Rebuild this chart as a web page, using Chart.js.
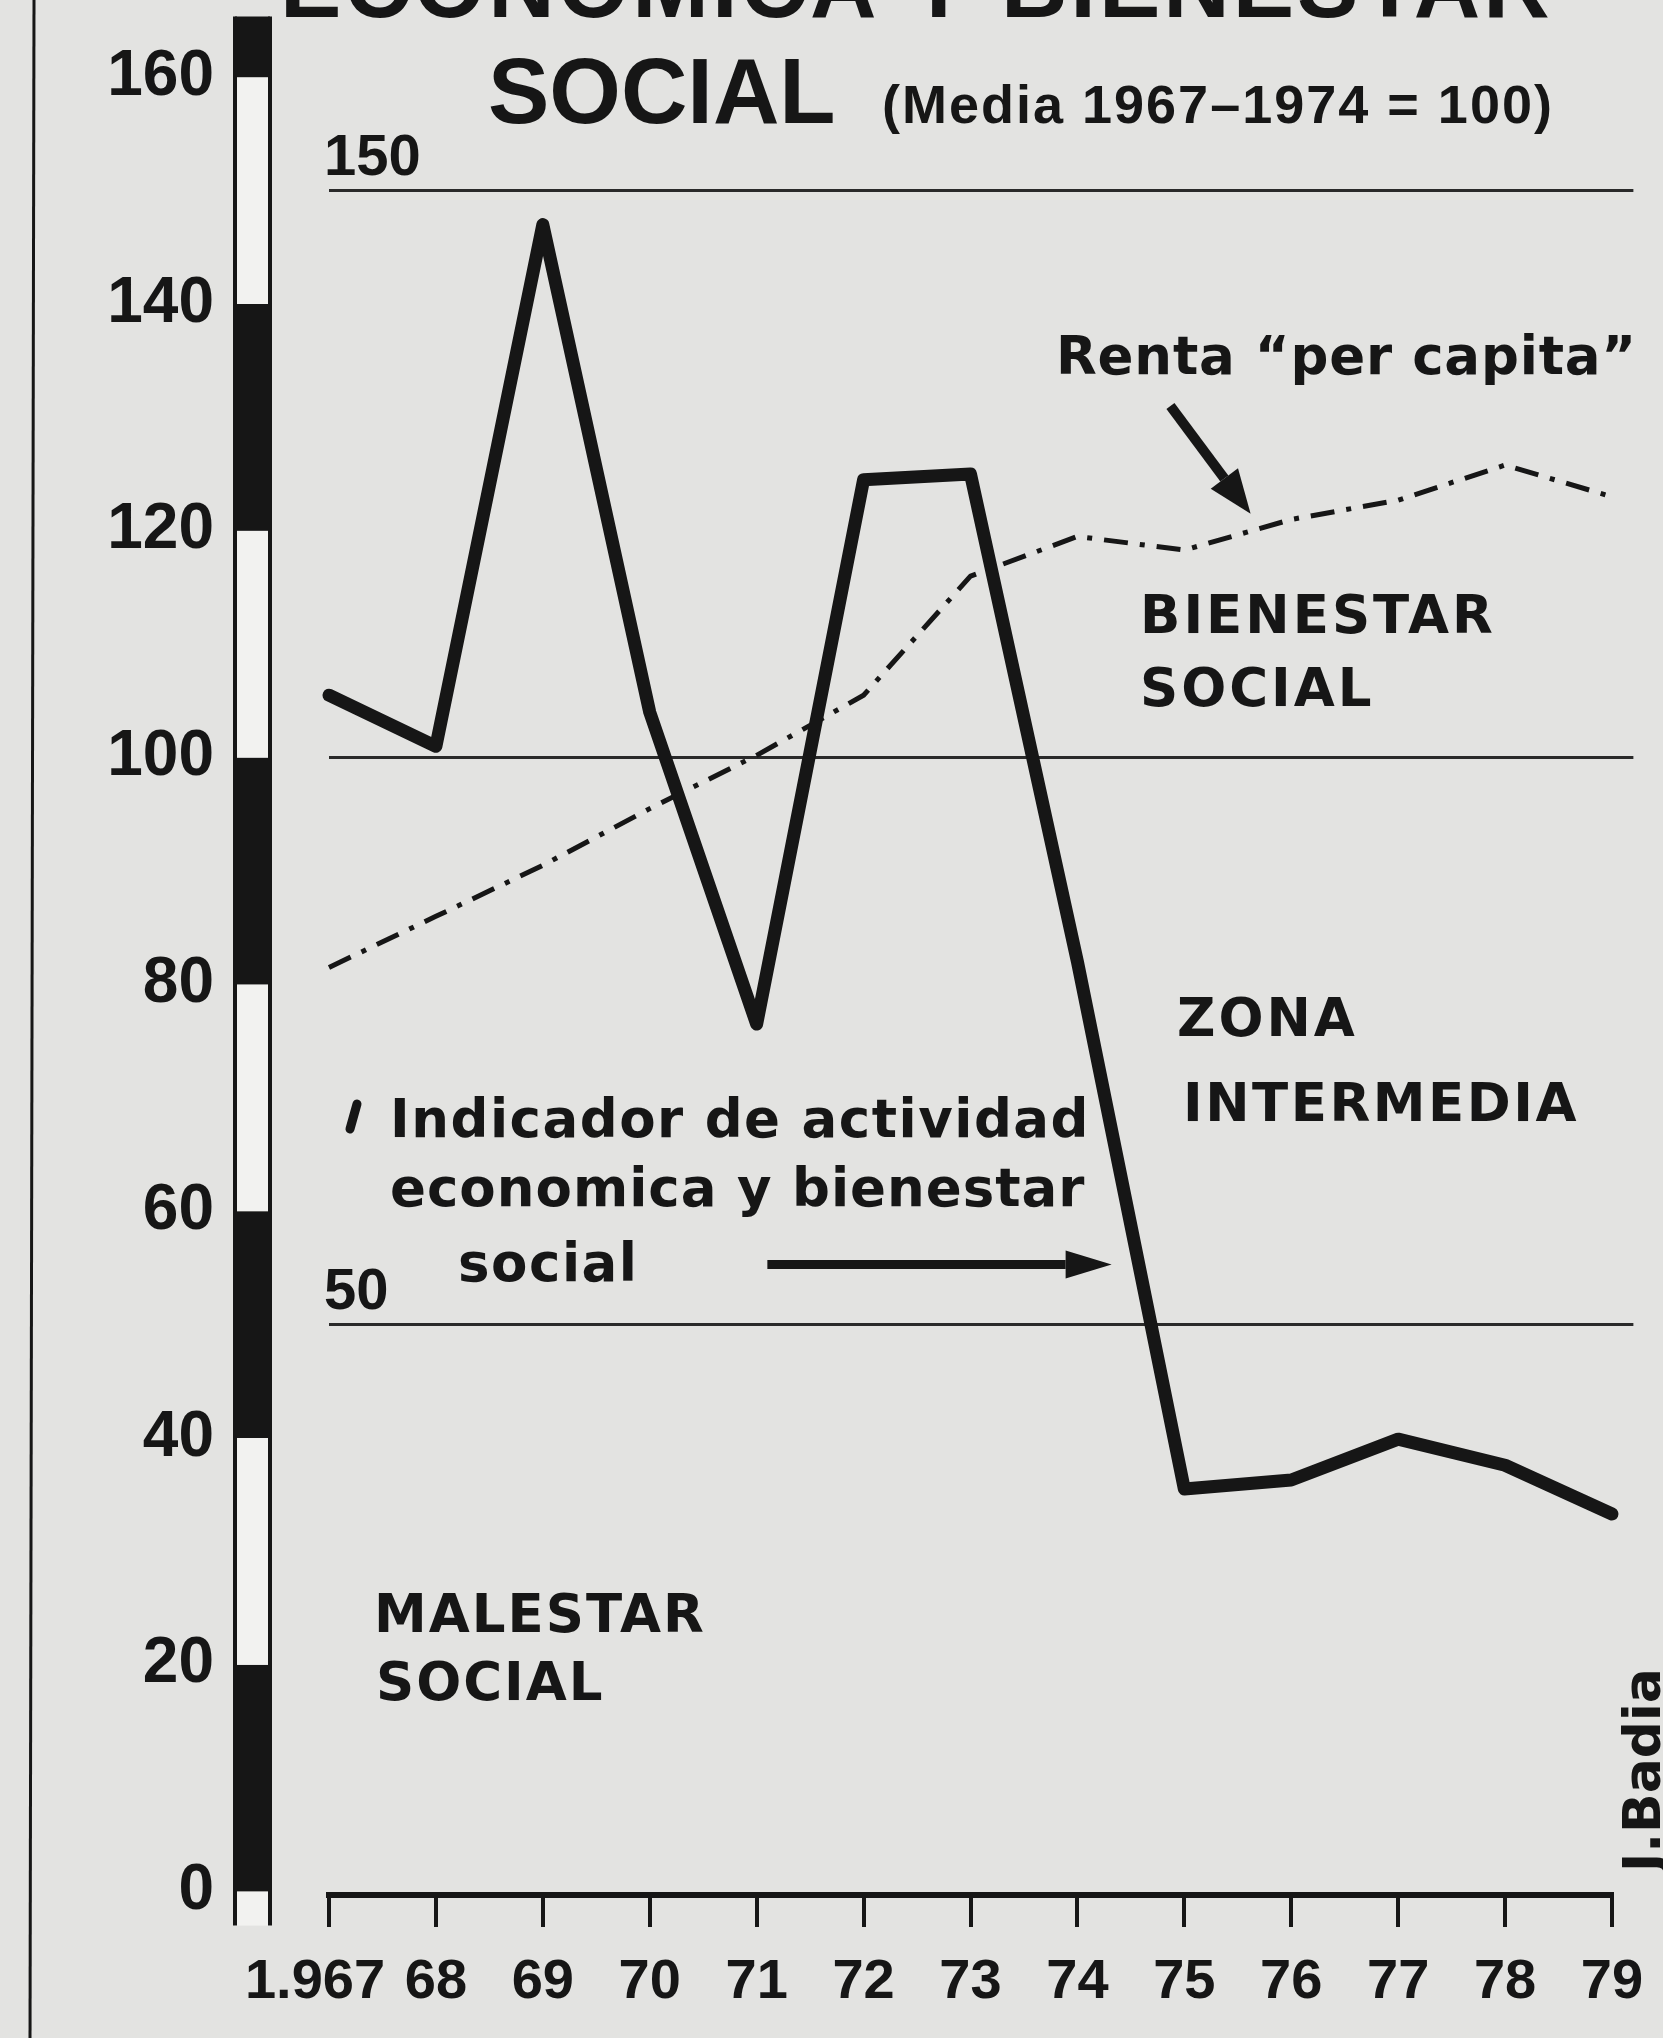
<!DOCTYPE html>
<html>
<head>
<meta charset="utf-8">
<title>Indicador de actividad economica y bienestar social</title>
<script src="https://cdn.jsdelivr.net/npm/chart.js@4.4.1/dist/chart.umd.min.js"></script>
<style>
  html, body { margin: 0; padding: 0; background: #e3e3e1; }
  #chart { display: block; }
</style>
</head>
<body>
<canvas id="chart" width="1663" height="2038"></canvas>
<script>
// Years on the x axis and how they are printed
const years = [1967, 1968, 1969, 1970, 1971, 1972, 1973, 1974, 1975, 1976, 1977, 1978, 1979];
const yearLabels = ['1.967\u2002', '68', '69', '70', '71', '72', '73', '74', '75', '76', '77', '78', '79'];

// Indicador de actividad economica y bienestar social (Media 1967-1974 = 100)
const indicador = [105.5, 101, 147, 104, 76.5, 124.5, 125, 82, 35.5, 36.3, 39.9, 37.6, 33.3];

// Renta "per capita"
const renta = [81.5, 86, 90.5, 95.5, 100.2, 105.5, 116, 119.5, 118.3, 121, 122.7, 125.8, 123];

// Left scale
const yTicks = [0, 20, 40, 60, 80, 100, 120, 140, 160];

// Zone limits (horizontal rules) and their printed labels
const zoneLevels = [150, 100, 50];
const zoneLabels = ['150', '', '50'];

const ink = '#161616';
const paper = '#e3e3e1';

function toPoints(values) {
    return years.map((year, i) => ({ x: year, y: values[i] }));
}

// horizontal rules run a little past the last year
const ruleDatasets = zoneLevels.map(level => ({
    label: 'nivel ' + level,
    data: [{ x: 1967, y: level }, { x: 1979.2, y: level }],
    borderColor: '#2a2a2a',
    borderWidth: 3,
    pointRadius: 0,
    clip: false,
    order: 5
}));

function drawArrow(ctx, x1, y1, x2, y2, width, headLen, headWidth) {
    const ang = Math.atan2(y2 - y1, x2 - x1);
    const bx = x2 - Math.cos(ang) * headLen;
    const by = y2 - Math.sin(ang) * headLen;
    ctx.save();
    ctx.strokeStyle = ink;
    ctx.fillStyle = ink;
    ctx.lineWidth = width;
    ctx.beginPath();
    ctx.moveTo(x1, y1);
    ctx.lineTo(bx, by);
    ctx.stroke();
    const nx = -Math.sin(ang) * headWidth / 2;
    const ny = Math.cos(ang) * headWidth / 2;
    ctx.beginPath();
    ctx.moveTo(x2, y2);
    ctx.lineTo(bx + nx, by + ny);
    ctx.lineTo(bx - nx, by - ny);
    ctx.closePath();
    ctx.fill();
    ctx.restore();
}

function text(ctx, str, x, y, font, spacing) {
    ctx.font = font;
    ctx.letterSpacing = (spacing || 0) + 'px';
    ctx.fillText(str, x, y);
}

const decor = {
    id: 'decor',
    beforeDraw(chart) {
        const { ctx, width, height } = chart;
        ctx.save();
        ctx.fillStyle = paper;
        ctx.fillRect(0, 0, width, height);
        ctx.restore();
    },
    beforeDatasetsDraw(chart) {
        const { ctx } = chart;
        const y = chart.scales.y;
        ctx.save();

        // page rule at the far left
        ctx.strokeStyle = ink;
        ctx.lineWidth = 3;
        ctx.beginPath();
        ctx.moveTo(34, 0);
        ctx.lineTo(30, chart.height);
        ctx.stroke();

        // striped scale bar next to the tick labels
        const barL = 235, barR = 270;
        for (let i = 0; i < yTicks.length - 1; i++) {
            const top = y.getPixelForValue(yTicks[i + 1]);
            const bot = y.getPixelForValue(yTicks[i]);
            ctx.fillStyle = i % 2 === 0 ? ink : '#f2f2f0';
            ctx.fillRect(barL, top, barR - barL, bot - top);
        }
        ctx.fillStyle = ink;
        const capTop = y.getPixelForValue(y.max) - 4;
        ctx.fillRect(barL, capTop, barR - barL, y.getPixelForValue(160) - capTop);
        ctx.fillStyle = '#f2f2f0';
        ctx.fillRect(barL, y.getPixelForValue(0), barR - barL, 34);
        ctx.lineWidth = 4;
        ctx.beginPath();
        ctx.moveTo(barL, capTop);
        ctx.lineTo(barL, y.getPixelForValue(0) + 34);
        ctx.moveTo(barR, capTop);
        ctx.lineTo(barR, y.getPixelForValue(0) + 34);
        ctx.stroke();

        ctx.fillStyle = ink;
        ctx.textBaseline = 'alphabetic';
        ctx.textAlign = 'left';

        // title (first line runs off the top)
        text(ctx, 'ECONOMICA Y BIENESTAR', 280, 17, 'bold 92px "Liberation Sans", Arial, sans-serif', 3);
        text(ctx, 'SOCIAL', 488, 123, 'bold 92px "Liberation Sans", Arial, sans-serif', 0);
        text(ctx, '(Media 1967–1974 = 100)', 882, 123, 'bold 54px "Liberation Sans", Arial, sans-serif', 2);

        // labels on the zone rules
        zoneLevels.forEach((level, i) => {
            if (!zoneLabels[i]) return;
            text(ctx, zoneLabels[i], 324, y.getPixelForValue(level) - 16, 'bold 58px "Liberation Sans", Arial, sans-serif', 0);
        });

        const zoneFont = 'bold 53px "DejaVu Sans", sans-serif';
        text(ctx, 'BIENESTAR', 1140, 633, zoneFont, 3);
        text(ctx, 'SOCIAL', 1140, 706, zoneFont, 3);
        text(ctx, 'ZONA', 1177, 1036, zoneFont, 3);
        text(ctx, 'INTERMEDIA', 1183, 1121, zoneFont, 2.5);
        text(ctx, 'MALESTAR', 374, 1632, zoneFont, 2);
        text(ctx, 'SOCIAL', 376, 1700, zoneFont, 2);

        const noteFont = 'bold 53px "DejaVu Sans", sans-serif';
        text(ctx, 'Renta “per capita”', 1056, 374, noteFont, 0.8);
        text(ctx, 'Indicador de actividad', 390, 1137, noteFont, 1.5);
        text(ctx, 'economica y bienestar', 390, 1206, noteFont, 1);
        text(ctx, 'social', 458, 1281, noteFont, 1.5);

        // little key stroke before "Indicador"
        ctx.lineWidth = 9;
        ctx.lineCap = 'round';
        ctx.beginPath();
        ctx.moveTo(350, 1129);
        ctx.lineTo(357, 1104);
        ctx.stroke();

        // signature
        ctx.save();
        ctx.translate(1660, 1872);
        ctx.rotate(-Math.PI / 2);
        text(ctx, 'J.Badia', 0, 0, 'bold 52px "DejaVu Sans", sans-serif', 0);
        ctx.restore();

        ctx.restore();
    },
    afterDatasetsDraw(chart) {
        const { ctx } = chart;
        const x = chart.scales.x, y = chart.scales.y;
        // arrow to the renta line
        drawArrow(ctx, x.getPixelForValue(1974.87), y.getPixelForValue(131), x.getPixelForValue(1975.62), y.getPixelForValue(121.5), 10, 44, 34);
        // arrow to the indicator line
        drawArrow(ctx, x.getPixelForValue(1971.1), y.getPixelForValue(55.3), x.getPixelForValue(1974.32), y.getPixelForValue(55.3), 9, 46, 28);
    }
};

new Chart(document.getElementById('chart'), {
    type: 'line',
    data: {
        datasets: [
            {
                label: 'Indicador de actividad economica y bienestar social',
                data: toPoints(indicador),
                borderColor: ink,
                borderWidth: 13,
                borderJoinStyle: 'round',
                borderCapStyle: 'round',
                pointRadius: 0,
                tension: 0,
                clip: false,
                order: 0
            },
            {
                label: 'Renta "per capita"',
                data: toPoints(renta),
                borderColor: ink,
                borderWidth: 5,
                borderDash: [24, 12, 5, 12],
                borderCapStyle: 'butt',
                pointRadius: 0,
                tension: 0,
                clip: false,
                order: 1
            },
            ...ruleDatasets
        ]
    },
    options: {
        responsive: false,
        devicePixelRatio: 1,
        animation: false,
        events: [],
        layout: { padding: { top: 20.5, right: 51, left: 0, bottom: 0 } },
        plugins: {
            legend: { display: false },
            tooltip: { enabled: false }
        },
        scales: {
            x: {
                type: 'linear',
                position: 'bottom',
                min: 1967,
                max: 1979,
                afterFit: scale => {
                    scale.height = 143;
                    scale.paddingLeft = 0;
                    scale.paddingRight = 0;
                },
                ticks: {
                    stepSize: 1,
                    autoSkip: false,
                    maxRotation: 0,
                    padding: 22,
                    color: ink,
                    font: { family: '"Liberation Sans", Arial, sans-serif', size: 56, weight: 'bold' },
                    callback: value => yearLabels[years.indexOf(value)]
                },
                grid: {
                    drawOnChartArea: false,
                    drawTicks: true,
                    tickLength: 32,
                    lineWidth: 4,
                    color: ink
                },
                border: { display: true, color: ink, width: 6 }
            },
            y: {
                type: 'linear',
                position: 'left',
                min: -0.3,
                max: 165,
                afterFit: scale => {
                    scale.width = 329;
                    scale.paddingTop = 0;
                    scale.paddingBottom = 0;
                },
                afterBuildTicks: scale => { scale.ticks = yTicks.map(v => ({ value: v })); },
                ticks: {
                    padding: 115,
                    color: ink,
                    font: { family: '"Liberation Sans", Arial, sans-serif', size: 64, weight: 'bold' },
                    callback: value => String(value)
                },
                grid: { display: false, drawTicks: false },
                border: { display: false }
            }
        }
    },
    plugins: [decor]
});
</script>
</body>
</html>
